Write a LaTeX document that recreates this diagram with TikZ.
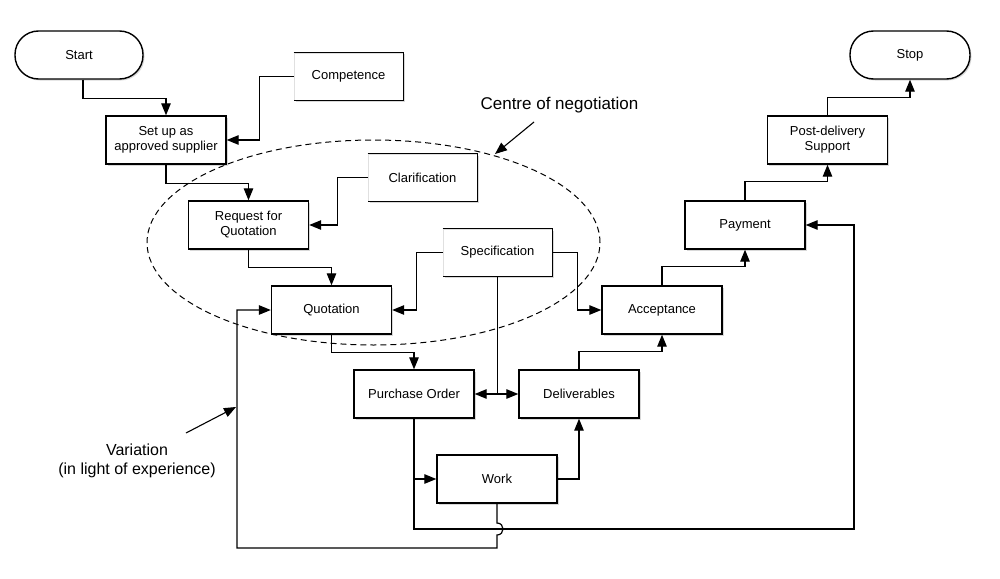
\documentclass[tikz,border=0pt]{standalone}
\usepackage{fontspec}
\setmainfont{Liberation Sans}
\usetikzlibrary{arrows.meta,shadows}
\begin{document}
\begin{tikzpicture}[x=1pt,y=-1pt,
  shad/.style={drop shadow={shadow xshift=1.5pt,shadow yshift=-1.5pt,opacity=0.3}},
  box/.style={draw, line width=1.4pt, fill=white, minimum width=120pt, minimum height=48pt,
    inner sep=2pt, align=center, font=\fontsize{13}{15}\selectfont, shad},
  term/.style={box, rounded corners=23.5pt},
  doc/.style={draw=black!12, line width=0.6pt, fill=white, minimum width=109pt, minimum height=47pt,
    inner sep=2pt, font=\fontsize{13}{15}\selectfont, shad},
  docedge/.style={line width=1.4pt, line join=miter},
  conn/.style={line width=1.2pt},
  arr/.style={conn, -{Triangle[length=12pt,width=9.5pt]}},
  lbl/.style={font=\fontsize{17}{20}\selectfont},
  vlbl/.style={font=\fontsize{16}{19.5}\selectfont, align=center},
]
\useasboundingbox[fill=white] (0,0) rectangle (1000,578);

% ellipse
\draw[line width=1pt, dash pattern=on 6pt off 4pt] (373.5,242.5) ellipse [x radius=226.5pt, y radius=102.5pt];

% nodes
\node[term, minimum width=128pt] (start) at (79,55) {Start};
\node[term] (stop) at (910,55) {Stop};
\node[box] (setup) at (166,140) {Set up as\\approved supplier};
\node[doc] (comp) at (348.5,76.5) {Competence};
\node[doc] (clar) at (422.5,177.5) {Clarification};
\node[box] (rfq) at (248.5,225) {Request for\\Quotation};
\node[box] (quot) at (331.5,310) {Quotation};
\node[doc] (spec) at (497.5,252.5) {Specification};
\node[box] (acc) at (662,310) {Acceptance};
\node[box] (po) at (414,394) {Purchase Order};
\node[box] (del) at (579,394) {Deliverables};
\node[box] (work) at (497,479) {Work};
\node[box] (pay) at (745,225) {Payment};
\node[box] (post) at (827.5,140) {Post-delivery\\Support};

\foreach \d in {comp,clar,spec}{
  \draw[docedge] (\d.north west) -- (\d.north east) -- (\d.south east) -- (\d.south west);
}

% labels
\node[lbl, anchor=base] (centre) at (559.5,109) {Centre of negotiation};
\node[vlbl] (var) at (137,461) {Variation\\(in light of experience)};
\coordinate (ctail) at (534,122);
\coordinate (chead) at (495,154);
\coordinate (vtail) at (186,433);
\coordinate (vhead) at (236,407);
\draw[arr, line width=1.1pt] (ctail) -- (chead);
\draw[arr, line width=1.1pt] (vtail) -- (vhead);

% connectors
\draw[arr] ([xshift=4pt]start.south) -- ++(0,19) -| (setup.north);
\draw[arr] (comp.west) -- ++(-34,0) |- (setup.east);
\draw[arr] (setup.south) -- ++(0,19) -| (rfq.north);
\draw[arr] (clar.west) -- ++(-30,0) |- (rfq.east);
\draw[arr] (rfq.south) -- ++(0,18) -| (quot.north);
\draw[arr] (spec.west) -- ++(-26,0) |- (quot.east);
\draw[arr] (spec.east) -- ++(25,0) |- (acc.west);
\coordinate (j) at (spec.south |- po.east);
\draw[conn] (spec.south) -- (j);
\draw[arr] (j) -- (po.east);
\draw[arr] (j) -- (del.west);
\draw[arr] (quot.south) -- ++(0,18) -| (po.north);
\draw[arr] (del.north) -- ++(0,-18) -| (acc.south);
\draw[arr] (po.south) |- (work.west);
\coordinate (fb) at (854,529);
\draw[arr] (po.south) |- (fb) |- (pay.east);
\draw[arr] (work.east) -| (del.south);
\coordinate (j1) at (497,523);
\coordinate (j2) at (497,535);
\coordinate (vl) at (237,548);
\draw[arr] (work.south) -- (j1) .. controls (505,523) and (505,535) .. (j2) |- (vl) |- (quot.west);
\draw[arr] (acc.north) -- ++(0,-19) -| (pay.south);
\draw[arr] (pay.north) -- ++(0,-19) -| (post.south);
\draw[arr] (post.north) -- ++(0,-18) -| (stop.south);
\end{tikzpicture}
\end{document}
